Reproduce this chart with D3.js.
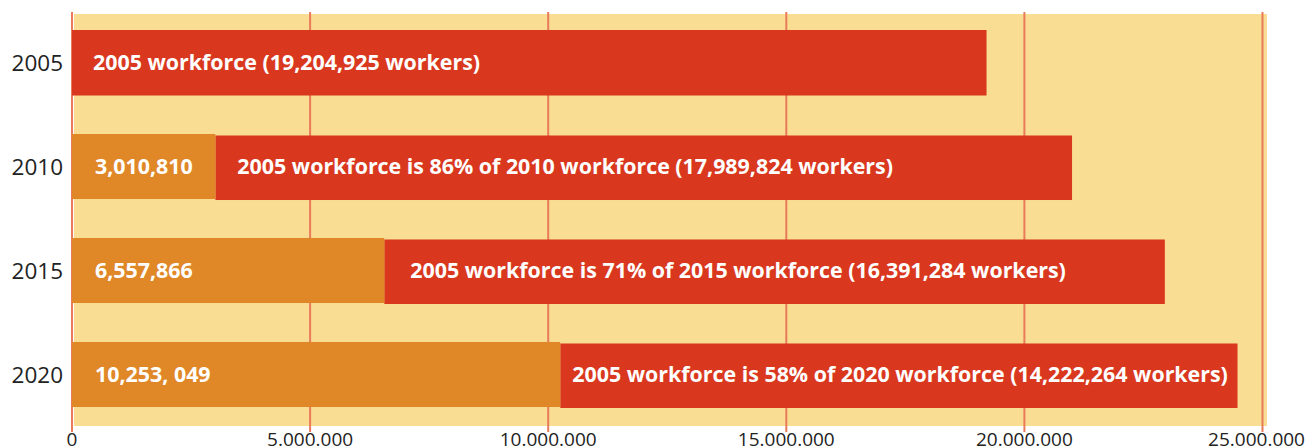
<!DOCTYPE html>
<html><head><meta charset="utf-8">
<script src="https://cdn.jsdelivr.net/npm/d3@7"></script>
<style>body{margin:0;background:#fff}svg{display:block}</style>
</head><body>
<svg id="c" width="1306" height="446"></svg>
<script>
const years = ["2005","2010","2015","2020"];
const newWorkers = [0, 3010810, 6557866, 10253049];
const oldWorkers = [19204925, 17989824, 16391284, 14222264];
const newLabels = ["", "3,010,810", "6,557,866", "10,253, 049"];
const oldLabels = [
  "2005 workforce (19,204,925 workers)",
  "2005 workforce is 86% of 2010 workforce (17,989,824 workers)",
  "2005 workforce is 71% of 2015 workforce (16,391,284 workers)",
  "2005 workforce is 58% of 2020 workforce (14,222,264 workers)"
];
const tickValues = [0, 5000000, 10000000, 15000000, 20000000, 25000000];
const tickLabels = ["0", "5.000.000", "10.000.000", "15.000.000", "20.000.000", "25.000.000"];
const labelPad = [21, 22, 26, 12];

const svg = d3.select("#c");
const x = d3.scaleLinear().domain([0, 25000000]).range([72, 1262.5]);
const y = d3.scaleBand().domain(years).range([30, 407.5]).paddingInner(0.37).paddingOuter(0);

const RED = "#d9381e", ORANGE = "#e08828", BG = "#f9dd93", GRID = "#e97b5a";
const FONT = "'Open Sans', sans-serif";

svg.append("rect").attr("x", 74).attr("y", 14).attr("width", 1193).attr("height", 412).attr("fill", BG);

svg.append("g").selectAll("line").data(tickValues).join("line")
  .attr("x1", d => x(d)).attr("x2", d => x(d))
  .attr("y1", 12).attr("y2", 432)
  .attr("stroke", GRID).attr("stroke-width", 2);

const rows = years.map((yr, i) => ({yr, i, n: newWorkers[i], o: oldWorkers[i]}));

const g = svg.append("g").selectAll("g").data(rows).join("g");

g.append("rect")
  .attr("x", d => x(d.n)).attr("y", d => y(d.yr) + (d.n > 0 ? 1.5 : 0))
  .attr("width", d => x(d.n + d.o) - x(d.n))
  .attr("height", d => y.bandwidth() - (d.n > 0 ? 1 : 0))
  .attr("fill", RED);

g.filter(d => d.n > 0).append("rect")
  .attr("x", x(0)).attr("y", d => y(d.yr))
  .attr("width", d => x(d.n) - x(0))
  .attr("height", y.bandwidth() - 0.5)
  .attr("fill", ORANGE);

g.filter(d => d.n > 0).append("text")
  .attr("x", x(0) + 23).attr("y", d => y(d.yr) + y.bandwidth() / 2)
  .attr("dy", "0.36em")
  .attr("fill", "#fff").attr("font-family", FONT)
  .attr("font-weight", 700).attr("font-size", 21.4)
  .text(d => newLabels[d.i]);

g.append("text")
  .attr("x", d => x(d.n) + labelPad[d.i]).attr("y", d => y(d.yr) + y.bandwidth() / 2)
  .attr("dy", "0.36em")
  .attr("fill", "#fff").attr("font-family", FONT)
  .attr("font-weight", 700).attr("font-size", 21.4)
  .text(d => oldLabels[d.i]);

svg.append("g").selectAll("text").data(years).join("text")
  .attr("x", 63).attr("y", d => y(d) + y.bandwidth() / 2).attr("dy", "0.36em")
  .attr("text-anchor", "end").attr("fill", "#222")
  .attr("font-family", FONT).attr("font-size", 22.5)
  .text(d => d);

const last = tickValues.length - 1;
svg.append("g").selectAll("text").data(tickValues).join("text")
  .attr("x", (d, i) => i === last ? 1305 : x(d)).attr("y", 445.5)
  .attr("text-anchor", (d, i) => i === last ? "end" : "middle")
  .attr("fill", "#222").attr("font-family", FONT).attr("font-size", 19)
  .text((d, i) => tickLabels[i]);
</script>
</body></html>
